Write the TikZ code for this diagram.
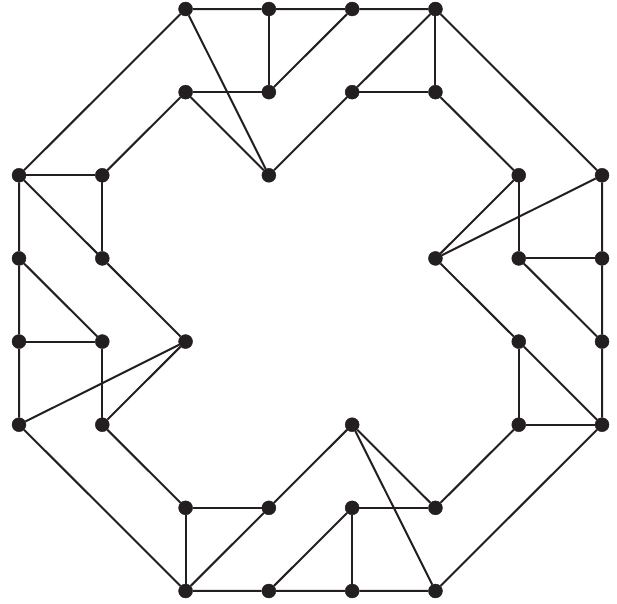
\documentclass[tikz,border=0pt]{standalone}
\definecolor{ink}{HTML}{231F20}
\begin{document}
\begin{tikzpicture}[x=1pt,y=-1pt,
  vtx/.style={circle,fill=ink,draw=ink,inner sep=0pt,minimum size=14pt},
  edge/.style={line width=2pt,ink}]
\useasboundingbox (0,0) rectangle (617,603);
\foreach \i/\j in {2/0,3/0,4/0,5/0, 2/1,3/1,4/1,5/1,
  0/2,1/2,3/2,6/2,7/2, 0/3,1/3,5/3,6/3,7/3,
  0/4,1/4,2/4,6/4,7/4, 0/5,1/5,4/5,6/5,7/5,
  2/6,3/6,4/6,5/6, 2/7,3/7,4/7,5/7}{
  \node[vtx] (\i-\j) at ({19+\i*83.29},{9+\j*83.14}) {};
}
% outer octagon
\draw[edge] (2-0) -- (3-0) -- (4-0) -- (5-0) -- (7-2) -- (7-3) -- (7-4) -- (7-5)
  -- (5-7) -- (4-7) -- (3-7) -- (2-7) -- (0-5) -- (0-4) -- (0-3) -- (0-2) -- (2-0);
\foreach \a/\b in {
  % top
  2-0/3-2, 3-0/3-1, 3-1/4-0, 5-0/5-1, 4-1/5-0, 4-1/5-1, 2-1/3-1, 2-1/3-2, 3-2/4-1, 2-1/1-2,
  % right
  7-2/5-3, 7-3/6-3, 6-3/7-4, 7-5/6-5, 6-4/7-5, 6-4/6-5, 6-2/6-3, 6-2/5-3, 5-3/6-4, 6-2/5-1,
  % bottom
  5-7/4-5, 4-7/4-6, 4-6/3-7, 2-7/2-6, 3-6/2-7, 3-6/2-6, 5-6/4-6, 5-6/4-5, 4-5/3-6, 5-6/6-5,
  % left
  0-5/2-4, 0-4/1-4, 1-4/0-3, 0-2/1-2, 1-3/0-2, 1-3/1-2, 1-5/1-4, 1-5/2-4, 2-4/1-3, 1-5/2-6}{
  \draw[edge] (\a) -- (\b);
}
\end{tikzpicture}
\end{document}
